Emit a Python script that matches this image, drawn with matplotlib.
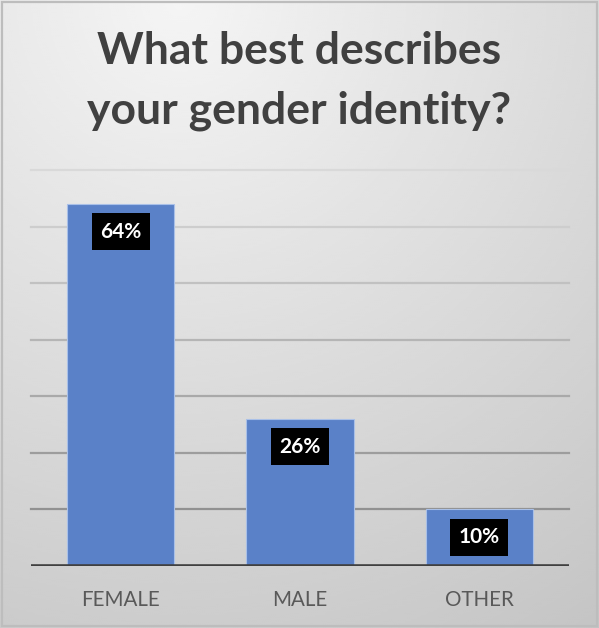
import numpy as np
import matplotlib
matplotlib.use("Agg")
import matplotlib.pyplot as plt
from matplotlib.patches import Rectangle

# survey answers
categories = ["FEMALE", "MALE", "OTHER"]
shares = [0.64, 0.26, 0.10]
grid_levels = [0.1, 0.2, 0.3, 0.4, 0.5, 0.6, 0.7]
title = "What best describes\nyour gender identity?"

plt.rcParams["font.family"] = ["Lato", "DejaVu Sans"]

fig = plt.figure(figsize=(5.99, 6.28), dpi=100)

# soft grey backdrop, lightest near the top
bg = fig.add_axes([0, 0, 1, 1], zorder=-5)
yy, xx = np.mgrid[0:1:300j, 0:1:300j]
dist = np.sqrt((xx - 0.3) ** 2 + (yy * 1.05) ** 2)
shade = np.clip(0.96 - 0.15 * dist, 0, 1)
bg.imshow(shade, cmap="gray", vmin=0, vmax=1, extent=[0, 1, 0, 1],
          origin="upper", aspect="auto", interpolation="bicubic")
bg.set_xlim(0, 1)
bg.set_ylim(0, 1)
bg.axis("off")
bg.add_patch(Rectangle((0.004, 0.003), 0.992, 0.994, fill=False,
                       edgecolor="#bdbdbd", linewidth=1.6))

ax = fig.add_axes([31 / 599, 62 / 628, 538 / 599, 396 / 628])
ax.set_facecolor("none")
x = np.arange(len(categories))
ax.set_xlim(-0.5, len(categories) - 0.5)
ax.set_ylim(0, 0.70)

# gridlines get darker toward the bottom
for lvl in grid_levels:
    t = (0.7 - lvl) / 0.6
    g = 0.85 - 0.28 * t
    ax.axhline(lvl, color=(g, g, g), linewidth=1.6, zorder=1, clip_on=False)

bars = ax.bar(x, shares, width=0.6, color="#5a81c8", edgecolor="#a9c0e8",
              linewidth=0.8, zorder=2)
ax.axhline(0, color="#404040", linewidth=2.6, zorder=3)

for xi, v in zip(x, shares):
    ax.annotate(f"{v:.0%}", (xi, v), xytext=(0, -20), textcoords="offset points",
                ha="center", va="center", color="white", fontsize=15,
                fontweight="bold", zorder=4,
                bbox=dict(boxstyle="square,pad=0.4", facecolor="black",
                          edgecolor="none"))

ax.set_xticks(x)
ax.set_xticklabels(categories, fontsize=14.8, color="#595959")
ax.tick_params(axis="x", length=0, pad=17)
ax.set_yticks([])
for s in ax.spines.values():
    s.set_visible(False)

fig.text(0.5, 0.871, title, ha="center", va="center", fontsize=32,
         fontweight="bold", color="#404040", linespacing=1.62)

fig.savefig("out.png", dpi=100)
